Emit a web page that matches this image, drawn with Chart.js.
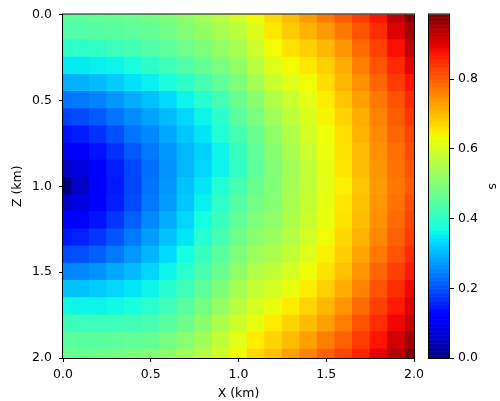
<!DOCTYPE html>
<html>
<head>
<meta charset="utf-8">
<script src="https://cdn.jsdelivr.net/npm/chart.js@4.4.1/dist/chart.umd.min.js"></script>
<style>
  html, body { margin: 0; padding: 0; background: #fff; }
  #wrap { width: 500px; height: 401px; }
</style>
</head>
<body>
<div id="wrap"><canvas id="tt" width="500" height="401"></canvas></div>
<script>
// grid nodes (km)
var xKm = [0, 0.1, 0.2, 0.3, 0.4, 0.5, 0.6, 0.7, 0.8, 0.9, 1.0, 1.1, 1.2, 1.3, 1.4, 1.5, 1.6, 1.7, 1.8, 1.9, 2.0];
var zKm = [0, 0.1, 0.2, 0.3, 0.4, 0.5, 0.6, 0.7, 0.8, 0.9, 1.0, 1.1, 1.2, 1.3, 1.4, 1.5, 1.6, 1.7, 1.8, 1.9, 2.0];

// travel time (s), one row per depth
var z00 = [0.455,0.455,0.46,0.465,0.47,0.48,0.495,0.515,0.54,0.565,0.60,0.635,0.67,0.70,0.735,0.77,0.80,0.835,0.875,0.93,0.98];
var z01 = [0.44,0.44,0.445,0.45,0.455,0.465,0.48,0.50,0.52,0.545,0.57,0.61,0.655,0.685,0.71,0.735,0.77,0.81,0.85,0.905,0.955];
var z02 = [0.40,0.40,0.405,0.415,0.425,0.44,0.455,0.475,0.495,0.52,0.545,0.59,0.635,0.66,0.68,0.705,0.74,0.785,0.83,0.88,0.93];
var z03 = [0.35,0.35,0.355,0.36,0.375,0.40,0.42,0.44,0.465,0.49,0.52,0.565,0.61,0.635,0.655,0.68,0.715,0.765,0.81,0.855,0.90];
var z04 = [0.29,0.295,0.305,0.32,0.34,0.355,0.375,0.40,0.43,0.46,0.495,0.54,0.585,0.61,0.635,0.665,0.705,0.745,0.79,0.835,0.875];
var z05 = [0.235,0.24,0.25,0.27,0.29,0.31,0.335,0.36,0.39,0.425,0.47,0.51,0.555,0.585,0.615,0.65,0.69,0.73,0.77,0.81,0.855];
var z06 = [0.185,0.195,0.21,0.235,0.26,0.28,0.305,0.33,0.36,0.395,0.45,0.49,0.535,0.57,0.605,0.64,0.675,0.715,0.76,0.80,0.84];
var z07 = [0.14,0.15,0.17,0.20,0.235,0.255,0.285,0.315,0.345,0.385,0.43,0.47,0.515,0.555,0.595,0.63,0.665,0.71,0.75,0.79,0.825];
var z08 = [0.10,0.115,0.14,0.17,0.21,0.24,0.27,0.30,0.325,0.36,0.41,0.46,0.505,0.545,0.585,0.625,0.66,0.70,0.745,0.78,0.815];
var z09 = [0.06,0.08,0.115,0.15,0.19,0.23,0.265,0.30,0.33,0.36,0.405,0.455,0.50,0.535,0.575,0.62,0.655,0.70,0.74,0.775,0.81];
var z10 = [0.0,0.06,0.105,0.145,0.19,0.235,0.27,0.31,0.345,0.385,0.43,0.47,0.50,0.54,0.575,0.615,0.645,0.69,0.735,0.77,0.80];
var z11 = [0.065,0.085,0.115,0.15,0.195,0.24,0.275,0.315,0.355,0.40,0.445,0.48,0.505,0.545,0.58,0.62,0.655,0.695,0.74,0.775,0.815];
var z12 = [0.105,0.115,0.14,0.175,0.215,0.255,0.29,0.33,0.37,0.415,0.46,0.495,0.515,0.55,0.585,0.625,0.66,0.70,0.745,0.785,0.825];
var z13 = [0.145,0.155,0.175,0.205,0.24,0.275,0.31,0.345,0.39,0.43,0.475,0.51,0.53,0.56,0.595,0.635,0.67,0.71,0.755,0.795,0.835];
var z14 = [0.195,0.20,0.215,0.24,0.27,0.30,0.335,0.37,0.41,0.45,0.495,0.53,0.55,0.575,0.61,0.645,0.68,0.725,0.77,0.81,0.85];
var z15 = [0.25,0.255,0.265,0.285,0.305,0.33,0.36,0.395,0.43,0.47,0.515,0.555,0.575,0.60,0.63,0.66,0.695,0.74,0.79,0.83,0.87];
var z16 = [0.31,0.31,0.32,0.33,0.345,0.36,0.39,0.42,0.455,0.495,0.54,0.58,0.60,0.625,0.65,0.68,0.715,0.76,0.81,0.85,0.89];
var z17 = [0.365,0.36,0.36,0.365,0.375,0.395,0.42,0.45,0.485,0.52,0.565,0.60,0.625,0.65,0.675,0.705,0.74,0.785,0.83,0.87,0.905];
var z18 = [0.42,0.415,0.415,0.415,0.42,0.43,0.45,0.475,0.51,0.55,0.59,0.625,0.65,0.675,0.70,0.73,0.765,0.81,0.85,0.89,0.925];
var z19 = [0.45,0.45,0.45,0.455,0.46,0.465,0.485,0.505,0.535,0.575,0.615,0.65,0.675,0.70,0.73,0.765,0.795,0.835,0.875,0.915,0.955];
var z20 = [0.465,0.47,0.475,0.48,0.49,0.50,0.515,0.535,0.56,0.595,0.635,0.67,0.695,0.73,0.76,0.795,0.825,0.86,0.90,0.94,0.985];
var rows = [z00, z01, z02, z03, z04, z05, z06, z07, z08, z09, z10, z11, z12, z13, z14, z15, z16, z17, z18, z19, z20];

var xTicks = [0, 0.5, 1.0, 1.5, 2.0];
var zTicks = [0, 0.5, 1.0, 1.5, 2.0];
var cbTicks = [0, 0.2, 0.4, 0.6, 0.8];

// matplotlib jet
var jetR = [[0,0],[0.35,0],[0.66,1],[0.89,1],[1,0.5]];
var jetG = [[0,0],[0.125,0],[0.375,1],[0.64,1],[0.91,0],[1,0]];
var jetB = [[0,0.5],[0.11,1],[0.34,1],[0.65,0],[1,0]];
function seg(pts, t) {
  for (var k = 1; k < pts.length; k++) {
    if (t <= pts[k][0]) {
      var a = pts[k-1], b = pts[k];
      return a[1] + (b[1] - a[1]) * (t - a[0]) / (b[0] - a[0]);
    }
  }
  return pts[pts.length-1][1];
}
function jet(t) {
  t = Math.max(0, Math.min(1, t));
  return 'rgb(' + Math.round(255*seg(jetR, t)) + ',' + Math.round(255*seg(jetG, t)) + ',' + Math.round(255*seg(jetB, t)) + ')';
}

var vmin = 0, vmax = 0;
rows.forEach(function(r) { r.forEach(function(v) { if (v > vmax) vmax = v; }); });

var cells = [];
for (var i = 0; i < zKm.length; i++) {
  for (var j = 0; j < xKm.length; j++) {
    cells.push({x: xKm[j], y: zKm[i], v: rows[i][j]});
  }
}
var dx = xKm[1] - xKm[0];

Chart.defaults.font.family = "'DejaVu Sans', sans-serif";
Chart.defaults.font.size = 12.5;
Chart.defaults.color = '#000';

var extras = {
  id: 'extras',
  afterDraw: function(chart) {
    var ctx = chart.ctx, a = chart.chartArea, cb = chart.scales.cb;
    ctx.save();
    // colorbar
    var x0 = cb.left - 21, n = 256;
    for (var k = 0; k < n; k++) {
      var y0 = cb.getPixelForValue(vmin + (vmax - vmin) * k / n);
      var y1 = cb.getPixelForValue(vmin + (vmax - vmin) * (k + 1) / n);
      ctx.fillStyle = jet((k + 0.5) / n);
      ctx.fillRect(x0, y1, 21, y0 - y1 + 0.6);
    }
    ctx.strokeStyle = '#000';
    ctx.lineWidth = 1;
    ctx.strokeRect(x0 - 0.5, cb.top - 0.5, 21, cb.bottom - cb.top + 1);
    // axes frame
    ctx.strokeRect(a.left - 0.5, a.top - 0.5, a.right - a.left + 1, a.bottom - a.top + 1);
    ctx.restore();
  }
};

new Chart(document.getElementById('tt'), {
  type: 'scatter',
  data: {
    datasets: [{
      data: cells,
      clip: 0,
      pointStyle: 'rect',
      pointBorderWidth: 0,
      pointRadius: function(c) {
        var s = c.chart.scales.x;
        if (!s) return 12;
        var w = Math.abs(s.getPixelForValue(dx) - s.getPixelForValue(0));
        return (w + 1) / Math.SQRT2;
      },
      pointBackgroundColor: function(c) {
        return c.raw ? jet((c.raw.v - vmin) / (vmax - vmin)) : '#000';
      }
    }]
  },
  options: {
    responsive: false,
    animation: false,
    events: [],
    layout: { padding: { top: 7, left: 0, right: 0, bottom: 0 } },
    plugins: { legend: { display: false }, tooltip: { enabled: false } },
    scales: {
      x: {
        type: 'linear', min: 0, max: 2,
        afterBuildTicks: function(s) { s.ticks = xTicks.map(function(v) { return {value: v}; }); },
        afterFit: function(s) { s.height = 43; },
        ticks: { padding: 5, maxRotation: 0, callback: function(v) { return v.toFixed(1); } },
        grid: { drawOnChartArea: false, tickLength: 4, color: '#000' },
        border: { display: false },
        title: { display: true, text: 'X (km)', padding: { top: 0, bottom: 0 } }
      },
      y: {
        type: 'linear', min: 0, max: 2, reverse: true,
        afterBuildTicks: function(s) { s.ticks = zTicks.map(function(v) { return {value: v}; }); },
        afterFit: function(s) { s.width = 63; },
        ticks: { padding: 7, callback: function(v) { return v.toFixed(1); } },
        grid: { drawOnChartArea: false, tickLength: 4, color: '#000' },
        border: { display: false },
        title: { display: true, text: 'Z (km)', padding: { top: 10, bottom: 0 } }
      },
      gap: {
        axis: 'y', position: 'right', weight: 0, min: 0, max: 1,
        afterFit: function(s) { s.width = 36; },
        ticks: { display: false },
        grid: { display: false },
        border: { display: false }
      },
      cb: {
        axis: 'y', position: 'right', weight: 1, min: vmin, max: vmax,
        afterBuildTicks: function(s) { s.ticks = cbTicks.map(function(v) { return {value: v}; }); },
        afterFit: function(s) { s.width = 50; },
        ticks: { padding: 4, callback: function(v) { return v.toFixed(1); } },
        grid: { drawOnChartArea: false, tickLength: 4, color: '#000' },
        border: { display: false },
        title: { display: true, text: 's', padding: { top: 0, bottom: 0 } }
      }
    }
  },
  plugins: [extras]
});
</script>
</body>
</html>
